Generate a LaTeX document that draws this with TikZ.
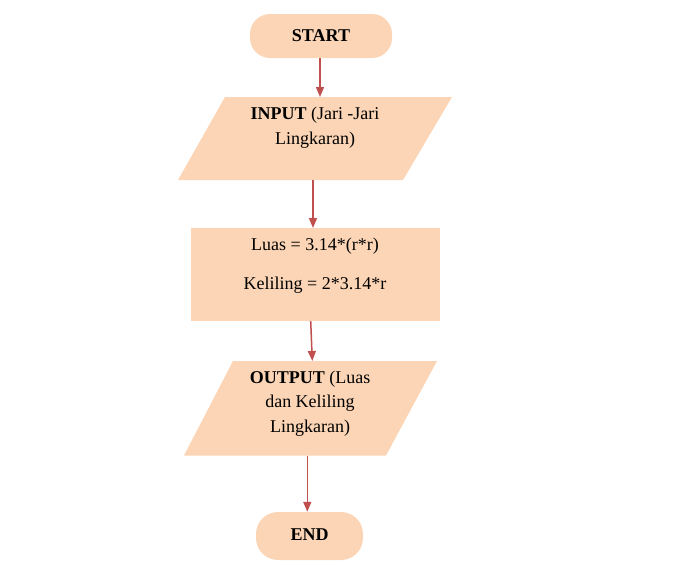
\documentclass[tikz,border=0pt]{standalone}
\usepackage{fontspec}
\setmainfont{Liberation Serif}
\usetikzlibrary{arrows.meta}
\definecolor{peach}{HTML}{FBD5B5}
\definecolor{arrowred}{HTML}{C0504D}
\begin{document}
\begin{tikzpicture}[x=1pt,y=-1pt,
  terminal/.style={fill=peach,draw=none,rounded corners=20pt},
  shapefill/.style={fill=peach,draw=none},
  txt/.style={font=\fontsize{18}{25}\selectfont,align=center,inner sep=0pt},
  flow/.style={draw=arrowred,line width=1.5pt,-{Triangle[length=10pt,width=8pt]}}]
\useasboundingbox (0,0) rectangle (695,570);
% START
\node[terminal,minimum width=142pt,minimum height=44pt] (start) at (321,36) {};
\node[txt] (starttxt) at (321,36) {\textbf{START}};
% INPUT
\fill[peach] (225,97) -- (452,97) -- (403,180) -- (178,180) -- cycle;
\coordinate (inTop) at (320,97);
\coordinate (inBot) at (313,180);
\node[txt] (intxt) at (315,128) {\textbf{INPUT} (Jari -Jari\\Lingkaran)};
% PROCESS
\node[shapefill,minimum width=249pt,minimum height=93pt] (proc) at (315.5,274.5) {};
\coordinate (procTop) at (313,228);
\coordinate (procBot) at (310.7,321);
\node[txt,font=\fontsize{18}{39}\selectfont] (proctxt) at (315,265.5) {Luas = 3.14*(r*r)\\Keliling = 2*3.14*r};
% OUTPUT
\fill[peach] (233,361) -- (437,361) -- (386,455.5) -- (184,455.5) -- cycle;
\coordinate (outTop) at (312.3,361);
\coordinate (outBot) at (307.3,455.5);
\node[txt,font=\fontsize{18}{24.8}\selectfont] (outtxt) at (310,403.5) {\textbf{OUTPUT} (Luas\\dan Keliling\\Lingkaran)};
% END
\node[terminal,minimum width=107pt,minimum height=48pt,rounded corners=22pt] (end) at (309.5,536) {};
\node[txt] (endtxt) at (309.5,535) {\textbf{END}};
% connectors
\draw[flow] (start.south -| inTop) -- (inTop);
\draw[flow] (inBot) -- (procTop);
\draw[flow] (procBot) -- (outTop);
\draw[flow] (outBot) -- (end.north -| outBot);
\end{tikzpicture}
\end{document}
